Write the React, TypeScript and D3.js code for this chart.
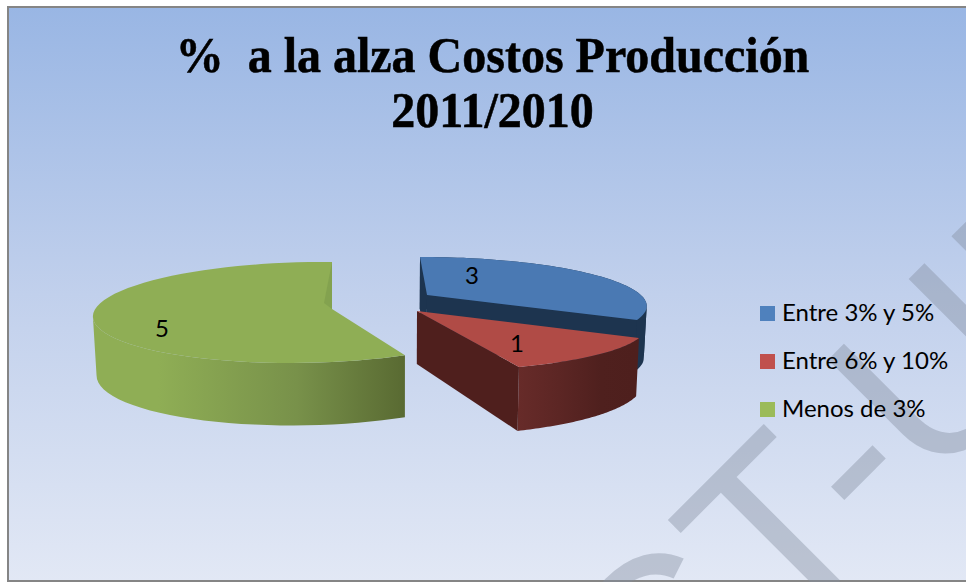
import React from "react";
import * as d3 from "d3";

const categories = ["Entre 3% y 5%", "Entre 6% y 10%", "Menos de 3%"];
const values = [3, 1, 5];
const titleLines = ["%  a la alza Costos Producción", "2011/2010"];
const watermark = "CT-UN";
const topColors = ["#4a79b3", "#b04b46", "#8fae55"];
const legendColors = ["#4f81bd", "#c0504d", "#9bbb59"];
const wallColors = ["#1d344f", "#4f1f1d", "#5a6b33"];

const W = 966;
const H = 582;

type View = { cx: number; cy: number; ux: number; uy: number; vx: number; vy: number; k: number; m: number; d0: number; ds: number; yRef: number };
const views: View[] = [
  { cx: 427, cy: 295, ux: 213.4, uy: -0.35, vx: -8.4, vy: -45.6, k: 0.2, m: 0, d0: 52, ds: 0, yRef: 320 },
  { cx: 417, cy: 311, ux: 218.9, uy: 2.3, vx: 1.75, vy: -41.9, k: 0.3, m: 0, d0: 53, ds: 0.196, yRef: 311 },
  { cx: 332, cy: 309, ux: 210, uy: -3.5, vx: 0, vy: -49.8, k: 0.06, m: 0.12, d0: 59, ds: 0.07, yRef: 313 },
];

const project = (v: View, a: number): [number, number] => {
  const s = Math.sin(a), c = Math.cos(a);
  const w = 1 + v.k * c + v.m * s;
  return [v.cx + (v.ux * s + v.vx * c) / w, v.cy + (v.uy * s + v.vy * c) / w];
};
const drop = (v: View, p: [number, number]): [number, number] => [
  p[0] - (p[0] - 400) * 0.012,
  p[1] + v.d0 + v.ds * (p[1] - v.yRef),
];
const closed = d3.line().curve(d3.curveLinearClosed);

const pieGen = d3.pie<number>().sort(null);
const arcs = pieGen(values);

const arcPts = (v: View, a0: number, a1: number) =>
  d3.range(0, 61).map((i) => project(v, a0 + ((a1 - a0) * i) / 60));

export default function App() {
  const slices = arcs.map((d, i) => {
    const v = views[i];
    const apex: [number, number] = [v.cx, v.cy];
    const rim = arcPts(v, d.startAngle, d.endAngle);
    return { i, v, apex, rim, d };
  });

  const blue = slices[0];
  const red = slices[1];
  const green = slices[2];

  const top = (s: typeof blue) => closed([s.apex, ...s.rim]) as string;
  // the side wall is split where the rim turns back, so the strip never folds over itself
  const outer = (s: typeof blue, from = 0, to = 60) => {
    const part = s.rim.slice(from, to + 1);
    return closed([...part, ...part.map((p) => drop(s.v, p)).reverse()]) as string;
  };
  const quad = (s: typeof blue, p: [number, number]) =>
    closed([s.apex, p, drop(s.v, p), drop(s.v, s.apex)]) as string;

  const notchTop = green.rim[60];
  const notch = closed([notchTop, green.apex, [green.apex[0] - 8, green.apex[1] - 6]]) as string;

  const blueTurn = d3.greatestIndex(blue.rim, (p) => p[0]);
  const greenTurn = d3.leastIndex(green.rim, (p) => p[0]);

  return (
    <svg width={W} height={H} style={{ position: "absolute", left: 0, top: 0, display: "block" }}>
      <defs>
        <linearGradient id="bg" x1="0" y1="0" x2="0" y2="1">
          <stop offset="0" stopColor="#99b6e4" />
          <stop offset="0.5" stopColor="#c1d0ec" />
          <stop offset="1" stopColor="#e2e8f5" />
        </linearGradient>
        <linearGradient id="greenWall" gradientUnits="userSpaceOnUse" x1="96" y1="0" x2="405" y2="0">
          <stop offset="0" stopColor="#8fae55" />
          <stop offset="0.2" stopColor="#8fae55" />
          <stop offset="0.65" stopColor="#78914a" />
          <stop offset="1" stopColor="#596a32" />
        </linearGradient>
        <linearGradient id="redWall" gradientUnits="userSpaceOnUse" x1="518" y1="0" x2="636" y2="0">
          <stop offset="0" stopColor="#672b29" />
          <stop offset="0.35" stopColor="#5c2624" />
          <stop offset="0.7" stopColor="#4f201e" />
          <stop offset="1" stopColor="#4e1f1d" />
        </linearGradient>
      </defs>

      <rect x={8} y={7} width={W} height={574} fill="url(#bg)" stroke="#858585" strokeWidth={2} />

      <text
        transform="rotate(-45)"
        x={-74}
        y={1005}
        fontFamily="'Liberation Sans', Arial, sans-serif"
        fontSize={240}
        fill="#838c9d"
        fillOpacity={0.4}
      >
        {watermark}
      </text>

      {titleLines.map((t, i) => (
        <text
          key={i}
          transform={`translate(492.5,${71.5 + i * 55.5}) scale(1,1.05)`}
          textAnchor="middle"
          xmlSpace="preserve"
          style={{ whiteSpace: "pre" }}
          fontFamily="'Liberation Serif', serif"
          fontWeight="bold"
          fontSize={48}
          fill="#000"
          stroke="#000"
          strokeWidth={0.5}
        >
          {t}
        </text>
      ))}

      {/* blue slice */}
      <path d={outer(blue, 0, blueTurn)} fill={wallColors[0]} />
      <path d={outer(blue, blueTurn, 60)} fill={wallColors[0]} />
      <path d={quad(blue, blue.rim[60])} fill={wallColors[0]} />
      <path d={quad(blue, blue.rim[0])} fill={wallColors[0]} />
      <path d={top(blue)} fill={topColors[0]} />

      {/* red slice */}
      <path d={outer(red)} fill="url(#redWall)" />
      <path d={quad(red, red.rim[60])} fill={wallColors[1]} />
      <path d={top(red)} fill={topColors[1]} />

      {/* green slice */}
      <path d={outer(green, 0, greenTurn)} fill="url(#greenWall)" />
      <path d={top(green)} fill={topColors[2]} />
      <path d={notch} fill="#83a24f" />

      {values.map((val, i) => {
        const pos: [number, number][] = [[472, 284], [517, 352], [162, 337]];
        return (
          <text key={i} x={pos[i][0]} y={pos[i][1]} textAnchor="middle" fontFamily="Lato, sans-serif" fontSize={24} fill="#000">
            {val}
          </text>
        );
      })}

      {categories.map((c, i) => (
        <g key={c}>
          <rect x={760} y={306 + i * 48} width={15} height={15} fill={legendColors[i]} />
          <text x={782} y={321 + i * 48} fontFamily="Lato, sans-serif" fontSize={24} fill="#000">
            {c}
          </text>
        </g>
      ))}
    </svg>
  );
}
